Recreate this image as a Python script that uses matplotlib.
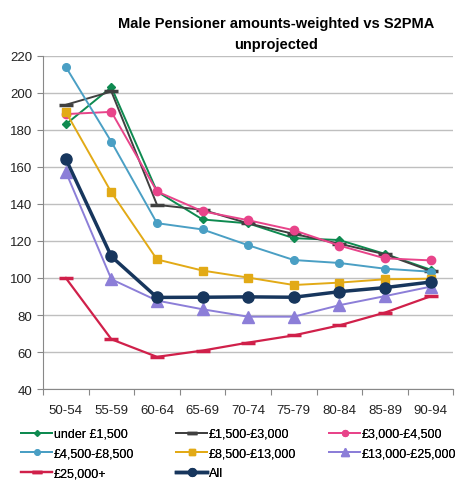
import matplotlib
matplotlib.use("Agg")
import matplotlib.pyplot as plt
import numpy as np

plt.rcParams['font.family'] = ['Liberation Sans', 'DejaVu Sans']

categories = ["50-54", "55-59", "60-64", "65-69", "70-74", "75-79", "80-84", "85-89", "90-94"]

under_1500 = [183, 203, 146.7, 131.6, 129.5, 121.5, 120.5, 113, 104.5]
b1500_3000 = [193.5, 200.7, 139.5, 136.8, 129.5, 123.8, 118.5, 112.8, 103.8]
b3000_4500 = [188.5, 189.7, 146.7, 136, 131.2, 125.8, 117.5, 110.6, 109.5]
b4500_8500 = [214, 173.5, 129.6, 126.2, 117.7, 109.7, 108.1, 105, 103.4]
b8500_13000 = [189.7, 146.2, 110, 104, 100.2, 96.2, 97.5, 99.3, 99.6]
b13000_25000 = [157.3, 99.3, 87.8, 83.1, 79.1, 79.1, 85.3, 90.2, 95.3]
b25000_plus = [100, 66.9, 57.4, 60.8, 65.1, 69, 74.4, 81.3, 90.1]
all_vals = [164.3, 111.6, 89.5, 89.6, 89.8, 89.6, 92.6, 94.8, 97.8]

labels = ["under £1,500", "£1,500-£3,000", "£3,000-£4,500", "£4,500-£8,500",
          "£8,500-£13,000", "£13,000-£25,000", "£25,000+", "All"]

fig = plt.figure(figsize=(4.6, 4.81), dpi=100)
ax = fig.add_axes([0.0935, 0.189, 0.892, 0.693])

x = np.arange(len(categories)) + 0.5

series = [
    (under_1500, dict(color='#0E8A50', marker='D', markersize=4, lw=1.4)),
    (b1500_3000, dict(color='#404040', marker='_', markersize=10, mew=2.5, lw=1.4)),
    (b3000_4500, dict(color='#E8448A', marker='o', markersize=6, lw=1.4)),
    (b4500_8500, dict(color='#4A9FC4', marker='o', markersize=5.5, lw=1.4)),
    (b8500_13000, dict(color='#E2AA16', marker='s', markersize=6, lw=1.4)),
    (b13000_25000, dict(color='#8C7ED8', marker='^', markersize=8, lw=1.4)),
    (b25000_plus, dict(color='#D0204A', marker='_', markersize=10, mew=2.5, lw=1.6)),
    (all_vals, dict(color='#17365D', marker='o', markersize=8, lw=2.5)),
]

handles = []
for (vals, st), lab in zip(series, labels):
    h, = ax.plot(x, vals, label=lab, **st)
    handles.append(h)

ax.set_xlim(0, len(categories))
ax.set_ylim(40, 220)
ax.set_yticks(np.arange(40, 221, 20))
ax.set_xticks(np.arange(0, len(categories) + 1))
ax.set_xticklabels([])
ax.set_xticks(x, minor=True)
ax.set_xticklabels(categories, minor=True)
ax.tick_params(axis='x', which='minor', length=0, labelsize=9.5, pad=11, colors='#222222')
ax.tick_params(axis='x', which='major', length=4, color='#888888', direction='out')
ax.tick_params(axis='y', length=4, color='#888888', labelsize=9.5, labelcolor='#222222')

ax.yaxis.grid(True, color='#BFBFBF', lw=1)
ax.set_axisbelow(True)
for s in ['top', 'right']:
    ax.spines[s].set_visible(False)
for s in ['left', 'bottom']:
    ax.spines[s].set_color('#888888')

fig.text(0.6, 0.964, "Male Pensioner amounts-weighted vs S2PMA\nunprojected",
         ha='center', va='top', fontsize=10.5, fontweight='bold', linespacing=1.6)

cols = [[0, 3, 6], [1, 4, 7], [2, 5]]
xpos = [21 / 460, 176 / 460, 329 / 460]
for idx, xp in zip(cols, xpos):
    leg = fig.legend([handles[i] for i in idx], [labels[i] for i in idx],
                     loc='upper left', bbox_to_anchor=(xp, 1 - 429 / 481),
                     frameon=False, fontsize=9, handlelength=2.5, handletextpad=0.1,
                     labelspacing=0.62, borderaxespad=0.0, borderpad=0.0,
                     markerscale=0.7)
    fig.add_artist(leg)

fig.savefig("out.png", dpi=100)
